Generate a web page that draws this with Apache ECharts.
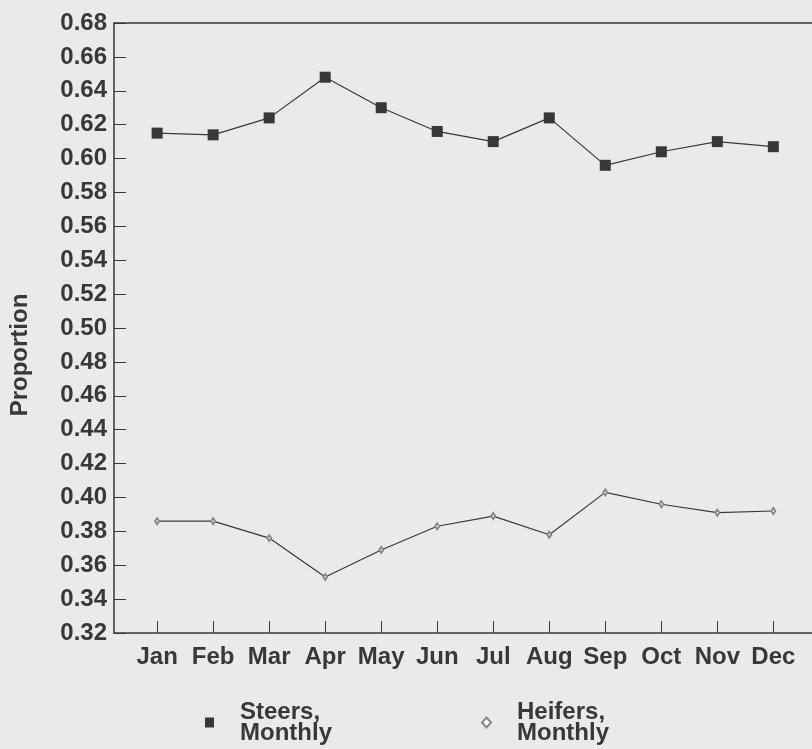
<!DOCTYPE html>
<html>
<head>
<meta charset="utf-8">
<script src="https://cdn.jsdelivr.net/npm/echarts@6/dist/echarts.min.js"></script>
<style>
  html, body { margin: 0; padding: 0; background: #eaeaea; }
  #chart { width: 812px; height: 749px; }
</style>
</head>
<body>
<div id="chart"></div>
<script>
const months = ['Jan', 'Feb', 'Mar', 'Apr', 'May', 'Jun', 'Jul', 'Aug', 'Sep', 'Oct', 'Nov', 'Dec'];
const steers = [0.615, 0.614, 0.624, 0.648, 0.630, 0.616, 0.610, 0.624, 0.596, 0.604, 0.610, 0.607];
const heifers = [0.386, 0.386, 0.376, 0.353, 0.369, 0.383, 0.389, 0.378, 0.403, 0.396, 0.391, 0.392];
const monthPos = months.map((m, i) => i + 1);

const ink = '#383838';
const font = 'Liberation Sans, Arial, sans-serif';

const chart = echarts.init(document.getElementById('chart'));

chart.setOption({
  backgroundColor: '#eaeaea',
  textStyle: { fontFamily: font },
  grid: { left: 114, top: 23, right: 0, bottom: 116 },
  xAxis: [{
    type: 'value',
    min: 0.23,
    max: 12.69,
    axisLine: { lineStyle: { color: ink, width: 1.5 } },
    axisTick: { inside: true, length: 12, customValues: monthPos, lineStyle: { color: ink } },
    splitLine: { show: false },
    axisLabel: {
      customValues: monthPos,
      formatter: v => months[Math.round(v) - 1],
      color: ink, fontSize: 24, fontWeight: 'bold', margin: 12
    }
  }, {
    type: 'value',
    position: 'top',
    min: 0.23,
    max: 12.69,
    axisLine: { show: true, lineStyle: { color: ink, width: 1.5 } },
    axisTick: { show: false },
    axisLabel: { show: false },
    splitLine: { show: false }
  }],
  yAxis: {
    type: 'value',
    min: 0.32,
    max: 0.68,
    interval: 0.02,
    axisLine: { show: true, lineStyle: { color: ink, width: 1.5 } },
    axisTick: { show: true, inside: true, length: 12, lineStyle: { color: ink } },
    splitLine: { show: false },
    axisLabel: {
      formatter: v => v.toFixed(2),
      color: ink, fontSize: 24, fontWeight: 'bold', margin: 7
    }
  },
  legend: {
    left: 200,
    top: 695,
    itemWidth: 9,
    itemHeight: 10,
    itemGap: 38,
    textStyle: {
      color: ink, fontSize: 24, fontWeight: 'bold', lineHeight: 21,
      width: 203, padding: [0, 0, 0, 21]
    },
    data: [
      { name: 'Steers,\nMonthly', icon: 'rect' },
      { name: 'Heifers,\nMonthly', icon: 'emptyDiamond' }
    ]
  },
  graphic: [{
    type: 'text',
    x: 20,
    y: 355,
    rotation: Math.PI / 2,
    style: {
      text: 'Proportion',
      fill: ink,
      font: 'bold 24px ' + font,
      textAlign: 'center',
      textVerticalAlign: 'middle'
    }
  }],
  series: [{
    name: 'Steers,\nMonthly',
    type: 'line',
    data: steers.map((v, i) => [monthPos[i], v]),
    symbol: 'rect',
    symbolSize: 11,
    itemStyle: { color: ink },
    lineStyle: { color: ink, width: 1.2 },
    animation: false
  }, {
    name: 'Heifers,\nMonthly',
    type: 'line',
    data: heifers.map((v, i) => [monthPos[i], v]),
    symbol: 'emptyDiamond',
    symbolSize: [4, 6],
    itemStyle: { color: '#888', borderColor: '#888', borderWidth: 0.6 },
    lineStyle: { color: ink, width: 1.2 },
    animation: false
  }]
});
</script>
</body>
</html>
